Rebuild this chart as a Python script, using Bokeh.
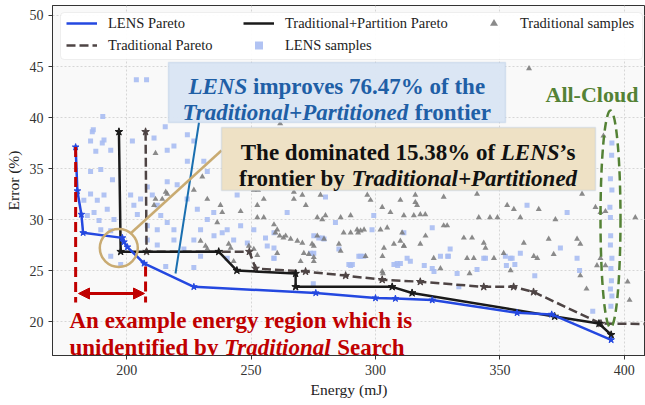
from bokeh.plotting import figure
from bokeh.models import (Range1d, FixedTicker, Legend, LegendItem, Label,
                          BoxAnnotation, Arrow, NormalHead)
from bokeh.embed import file_html
from bokeh.resources import INLINE

# ---------------- data ----------------
lens_pareto_energy = [179.5, 180.2, 181.8, 182.5, 198.3, 198.9, 200.3, 207.0, 227.0,
                      276.0, 300.0, 308.0, 322.8, 356.9, 370.8, 394.7]
lens_pareto_error = [37.1, 32.8, 30.5, 28.7, 28.2, 27.8, 27.3, 25.7, 23.4,
                     22.8, 22.3, 22.25, 22.1, 20.85, 20.7, 18.2]

tp_pareto_energy = [196.9, 197.6, 237.0, 244.3, 267.9, 267.9, 306.7, 314.7, 372.0, 389.8, 394.7]
tp_pareto_error = [38.6, 26.85, 26.85, 25.0, 24.7, 23.4, 23.4, 22.8, 20.5, 19.8, 18.7]

trad_pareto_energy = [207.6, 208.0, 249.3, 251.8, 271.9, 288.0, 302.7, 318.0, 343.5,
                      355.5, 363.5, 390.6, 415.0]
trad_pareto_error = [38.6, 26.85, 26.85, 25.2, 24.9, 24.5, 24.1, 23.9, 23.4,
                     23.4, 22.9, 19.8, 19.75]

lens_sample_energy = [
    185.5, 190.2, 187.6, 193.6, 202.3, 211.0, 216.3, 219.0, 185.5, 189.6, 194.3, 185.5,
    182.8, 188.2, 190.9, 192.2, 186.9, 184.2, 188.9, 194.9, 189.6, 193.6, 201.6, 202.9,
    204.3, 205.6, 208.3, 210.3, 212.3, 213.7, 216.3, 219.0, 212.3, 208.3, 216.3, 220.3,
    224.3, 228.4, 229.7, 232.4, 235.1, 227.0, 235.0, 240.4, 243.0, 245.8, 248.5, 251.1,
    256.5, 259.2, 264.5, 275.2, 279.3, 253.8, 244.4, 232.4, 224.4, 231.0, 193.6, 197.6,
    219.0, 223.0, 229.7, 240.4, 208.3, 212.3, 203.9, 208.0, 190.4, 186.6, 215.5, 186.2,
    190.9, 227.0, 224.4,
    395.0, 394.4, 395.0, 394.4, 394.5, 395.0, 394.4, 394.6, 394.8, 394.4, 395.0, 394.6,
    394.9, 394.2,
    360.9, 377.0, 374.3, 381.0, 354.2, 356.0, 330.0, 329.3, 326.1, 311.4, 322.8, 299.3,
    298.6, 283.9, 279.9, 277.2, 285.3, 294.0, 290.7, 308.7, 314.0, 343.5, 358.2,
    364.0, 382.0, 352.6, 332.8, 319.6, 308.9, 290.0, 275.0, 387.3,
    215.7, 227.0, 238.4, 259.2, 273.9, 295.3, 310.0, 312.7, 255.8, 259.2, 259.2, 275.2,
    278.6, 289.3, 293.3, 307.4, 322.8, 323.5, 333.5, 340.8, 344.2, 352.2, 354.9, 329.0]
lens_sample_error = [
    37.7, 37.5, 36.7, 36.8, 37.7, 38.0, 36.8, 37.2, 34.7, 34.9, 33.9, 32.5,
    31.9, 31.9, 32.4, 31.0, 30.7, 30.4, 29.9, 30.0, 29.0, 28.9, 32.4, 31.4,
    30.5, 32.0, 33.2, 32.4, 31.4, 30.4, 29.7, 29.0, 29.0, 29.4, 33.7, 33.4,
    32.0, 31.0, 29.0, 30.0, 28.4, 28.0, 30.7, 29.0, 28.0, 29.4, 27.7, 29.0,
    27.4, 28.7, 30.7, 28.4, 28.1, 34.7, 32.4, 34.7, 35.7, 35.7, 26.4, 25.6,
    28.0, 27.1, 26.4, 26.2, 28.0, 27.5, 43.7, 43.7, 40.1, 38.8, 39.1, 38.6,
    37.8, 37.7, 38.3,
    37.5, 34.0, 32.9, 30.2, 28.4, 26.2, 27.5, 25.2, 24.0, 23.2, 22.5, 21.5,
    36.3, 31.2,
    31.4, 30.7, 27.2, 26.2, 26.2, 25.6, 27.1, 26.4, 26.4, 28.7, 29.2, 30.4,
    29.0, 29.7, 32.2, 28.2, 27.1, 26.4, 25.6, 25.7, 25.9, 26.2, 26.7,
    24.5, 25.0, 25.5, 24.7, 25.5, 25.5, 25.5, 23.7, 21.0,
    25.4, 25.3, 28.7, 26.2, 26.7, 26.4, 25.7, 26.2, 28.2, 27.2, 26.2, 26.7,
    28.2, 25.6, 26.4, 25.6, 25.2, 24.9, 23.4, 25.1, 26.2, 26.4, 26.2, 26.4]

trad_sample_energy = [
    211.6, 230.4, 227.0, 215.7, 214.3, 211.0, 232.4, 237.7, 238.4, 236.4, 245.8, 251.1,
    252.8, 255.1, 252.5, 252.5, 255.1, 259.2, 260.5, 263.9, 265.9, 268.6, 270.6, 267.2,
    270.6, 272.0, 267.2, 277.9, 278.6, 273.2, 275.2, 269.9, 229.7, 232.4, 241.8, 243.0,
    251.1, 260.5, 252.5,
    296.7, 298.0, 302.7, 310.0, 316.0, 316.0, 316.7, 327.4, 340.8, 352.9, 355.6, 365.6,
    383.0, 388.4, 290.0, 286.0, 279.9, 276.6, 306.0, 311.4, 315.4, 318.0, 320.0, 341.5,
    346.0, 349.0, 358.2, 372.3, 390.4, 392.4, 404.4,
    276.6, 279.3, 287.2, 292.6, 294.0, 295.4, 302.0, 304.7, 310.7, 310.0, 311.4, 320.1,
    327.4, 328.8, 335.5, 338.8, 343.5, 344.2, 351.5, 359.6, 369.6, 381.0, 382.3, 275.2,
    286.0, 296.0, 303.4, 302.8, 323.4, 336.8, 339.5, 347.6, 363.6, 365.0, 371.6, 390.4,
    392.4,
    231.7, 241.0, 249.1, 259.8, 261.5, 263.0, 271.2, 274.5, 285.3, 275.2, 290.0, 293.0,
    302.7, 307.4, 311.4, 318.0, 326.1,
    382.3, 389.0, 401.3, 402.1, 384.8, 354.3, 303.0, 337.8,
    211.6, 216.3, 361.7, 391.6, 261.7]
trad_sample_error = [
    36.5, 34.2, 32.9, 32.7, 32.0, 31.4, 32.0, 31.4, 30.7, 29.7, 30.8, 32.9,
    32.9, 32.0, 31.4, 30.2, 30.2, 29.5, 29.0, 28.4, 28.1, 27.9, 27.7, 32.7,
    32.4, 31.4, 32.0, 32.4, 30.0, 26.6, 26.3, 25.9, 27.9, 27.1, 27.2, 25.9,
    27.1, 26.7, 26.5,
    32.4, 31.9, 31.2, 31.9, 32.4, 31.7, 31.4, 32.2, 32.5, 31.4, 31.0, 31.0,
    32.5, 31.2, 30.4, 30.2, 30.4, 30.2, 30.7, 30.4, 30.4, 30.5, 30.5, 30.2,
    30.2, 30.2, 30.2, 30.0, 30.7, 30.8, 30.2,
    28.4, 28.1, 28.7, 29.0, 28.9, 29.0, 29.0, 29.2, 28.7, 27.9, 27.4, 28.4,
    29.4, 29.4, 28.2, 28.2, 27.7, 27.2, 26.7, 27.7, 28.1, 28.1, 27.6, 27.4,
    26.9, 26.4, 27.2, 26.4, 26.2, 26.2, 26.2, 26.2, 26.4, 26.2, 26.6, 26.2,
    25.5,
    27.4, 27.6, 27.4, 28.7, 28.4, 28.2, 26.7, 27.6, 27.6, 25.9, 28.7, 28.7,
    24.9, 27.6, 27.4, 27.6, 25.2,
    24.5, 25.5, 23.9, 22.1, 23.2, 25.0, 24.7, 24.7,
    32.0, 32.5, 44.8, 38.2, 39.4]

x_ticks = [200, 250, 300, 350, 400]
y_ticks = [20, 25, 30, 35, 40, 45, 50]

# ---------------- layout helpers ----------------
FONT = "Liberation Serif"
FRAME_L, FRAME_R, FRAME_T, FRAME_B = 52, 645, 5, 355   # pixels of the plot frame
X0, X1 = 170.2, 408.5
Y0, Y1 = 16.67, 50.98
XS = (X1 - X0) / (FRAME_R - FRAME_L)
YS = (Y1 - Y0) / (FRAME_B - FRAME_T)


def dx(px):
    return X0 + (px - FRAME_L) * XS


def dy(py):
    return Y0 + (FRAME_B - py) * YS


BOLD = {' ': 250, '%': 1000, '\u2019': 333, '+': 570, '-': 333, '.': 250,
        'A': 722, 'C': 722, 'E': 667, 'L': 667, 'N': 722, 'P': 611, 'S': 556, 'T': 667,
        'a': 500, 'b': 556, 'c': 444, 'd': 556, 'e': 444, 'f': 333, 'g': 500, 'h': 556,
        'i': 278, 'l': 278, 'm': 833, 'n': 556, 'o': 500, 'p': 556, 'r': 444, 's': 389,
        't': 333, 'u': 556, 'v': 500, 'w': 722, 'x': 500, 'y': 500}
for _d in "0123456789":
    BOLD[_d] = 500
BOLDIT = {' ': 250, '+': 570, 'L': 611, 'E': 667, 'N': 722, 'S': 556, 'T': 611, 'P': 611,
          'a': 500, 'd': 500, 'e': 444, 'i': 278, 'l': 278, 'n': 556, 'o': 500, 'r': 389,
          't': 278}


def tw(s, style, size):
    table = BOLDIT if "italic" in style else BOLD
    return sum(table.get(c, 500) for c in s) * size / 1000.0


p = figure(width=645, height=405, x_range=Range1d(X0, X1), y_range=Range1d(Y0, Y1),
           output_backend="svg", toolbar_location=None,
           min_border_left=FRAME_L, min_border_right=0, min_border_top=FRAME_T,
           min_border_bottom=405 - FRAME_B)
p.background_fill_color = "#f9f9f9"
p.border_fill_color = "white"
p.outline_line_color = "#333333"
p.outline_line_width = 1

for ax in (p.xaxis[0], p.yaxis[0]):
    ax.major_label_text_font = FONT
    ax.major_label_text_font_size = "14px"
    ax.major_label_text_color = "#333333"
    ax.axis_label_text_font = FONT
    ax.axis_label_text_font_size = "15.5px"
    ax.axis_label_text_font_style = "normal"
    ax.axis_label_text_color = "#222222"
    ax.axis_line_color = "#333333"
    ax.major_tick_line_color = "#333333"
    ax.major_tick_in = 0
    ax.major_tick_out = 4
    ax.minor_tick_line_color = None
p.xaxis.axis_label = "Energy (mJ)"
p.yaxis.axis_label = "Error (%)"
p.xaxis.axis_label_standoff = 3
p.xaxis.ticker = FixedTicker(ticks=x_ticks)
p.yaxis.ticker = FixedTicker(ticks=y_ticks)
p.grid.grid_line_color = "#d6d6d6"
p.grid.grid_line_dash = "2 2"
p.grid.grid_line_width = 1

# ---------------- data marks ----------------
BLUE = "#2448e0"
BLACK = "#1a1a1a"
DASHC = "#4e4444"

r_lens_s = p.scatter(lens_sample_energy, lens_sample_error, marker="square", size=5,
                     fill_color="#a9bdf2", line_color=None, fill_alpha=0.9)
r_trad_s = p.scatter(trad_sample_energy, trad_sample_error, marker="triangle", size=6,
                     fill_color="#7d7d7d", line_color=None, fill_alpha=0.9)

r_trad = p.line(trad_pareto_energy, trad_pareto_error, line_color=DASHC, line_width=2.5,
                line_dash="9 4")
p.scatter(trad_pareto_energy[:-1], trad_pareto_error[:-1], marker="star", size=8,
          fill_color=DASHC, line_color=DASHC)
r_tp = p.line(tp_pareto_energy, tp_pareto_error, line_color=BLACK, line_width=2.5)
p.scatter(tp_pareto_energy, tp_pareto_error, marker="star", size=8,
          fill_color=BLACK, line_color=BLACK)
r_lens = p.line(lens_pareto_energy, lens_pareto_error, line_color=BLUE, line_width=2.5)
p.scatter(lens_pareto_energy, lens_pareto_error, marker="star", size=7,
          fill_color=BLUE, line_color=BLUE)

# ---------------- annotations ----------------
RED = "#c00000"
TAN = "#c9ab72"
GREEN = "#548235"

# red bracket
p.segment(x0=[lens_pareto_energy[0], trad_pareto_energy[0]],
          y0=[lens_pareto_error[0], dy(266)],
          x1=[lens_pareto_energy[0], trad_pareto_energy[0]],
          y1=[dy(302), dy(302)], line_color=RED, line_width=3, line_dash="10 5")
p.add_layout(Arrow(start=NormalHead(size=11, fill_color=RED, line_color=RED),
                   end=NormalHead(size=11, fill_color=RED, line_color=RED),
                   x_start=dx(78), y_start=dy(293), x_end=dx(144), y_end=dy(293),
                   line_color=RED, line_width=3))

# green ellipse (All-Cloud)
p.ellipse(x=[dx(610)], y=[dy(218.5)], width=20 * XS, height=217 * YS,
          fill_alpha=0, line_color=GREEN, line_width=2.5, line_dash="9 5")

# connectors and circle
p.segment(x0=[dx(198.5)], y0=[dy(122)], x1=[dx(175)], y1=[dy(273)],
          line_color="#1a6fb0", line_width=2)
p.segment(x0=[dx(130)], y0=[dy(233)], x1=[dx(221)], y1=[dy(150)],
          line_color=TAN, line_width=2.5)
p.scatter(x=[dx(118.3)], y=[dy(247.5)], marker="circle", size=38, fill_alpha=0,
          line_color=TAN, line_width=2.5)

# legend frame
p.add_layout(BoxAnnotation(left=dx(60), right=dx(642), top=dy(12), bottom=dy(59),
                           fill_color="white", fill_alpha=0.95, border_radius=4,
                           line_color="#cccccc", line_width=1))


def add_legend(items, xoff, nrows):
    h = 20
    total_h = nrows * h + (nrows - 1) * 2
    leg = Legend(items=items,
                 location=(xoff, FRAME_B - (13 + total_h)),
                 orientation="vertical", padding=0, margin=0, spacing=2,
                 glyph_width=31, glyph_height=h, label_height=h, label_standoff=11,
                 label_text_font=FONT, label_text_font_size="14.5px",
                 label_text_color="#222222", border_line_alpha=0,
                 background_fill_alpha=0)
    p.add_layout(leg, "center")


add_legend([LegendItem(label="LENS Pareto", renderers=[r_lens]),
            LegendItem(label="Traditional Pareto", renderers=[r_trad])], 14, 2)
add_legend([LegendItem(label="Traditional+Partition Pareto", renderers=[r_tp]),
            LegendItem(label="LENS samples", renderers=[r_lens_s])], 191, 2)
add_legend([LegendItem(label="Traditional samples", renderers=[r_trad_s])], 426, 1)

# text boxes
p.add_layout(BoxAnnotation(left=dx(168), right=dx(505), top=dy(62), bottom=dy(122),
                           fill_color="#dae5f4", fill_alpha=0.97,
                           line_color="#9fb8dc", line_width=1.5))
p.add_layout(BoxAnnotation(left=dx(221), right=dx(595), top=dy(127), bottom=dy(190),
                           fill_color="#eee1c5", fill_alpha=1,
                           line_color="#a8bfe0", line_width=1.5))


def place_line(segments, baseline, size, color, center=None, left=None):
    total = sum(tw(s, st, size) for s, st in segments)
    x = left if left is not None else center - total / 2.0
    for s, st in segments:
        core = s.lstrip(" ")
        x += tw(s[:len(s) - len(core)], st, size)
        shown = core.rstrip(" ")
        p.add_layout(Label(x=dx(x), y=dy(baseline), text=shown, text_font=FONT,
                           text_font_size=f"{size}px", text_font_style=st,
                           text_color=color, text_baseline="alphabetic",
                           text_align="left"))
        x += tw(core, st, size)


BOXBLUE = "#1f5fa6"
place_line([("LENS", "bold italic"), (" improves 76.47% of the", "bold")], 86, 23,
           BOXBLUE, center=336.5)
place_line([("Traditional+Partitioned", "bold italic"), (" frontier", "bold")], 112, 23,
           BOXBLUE, center=336.5)
place_line([("The dominated 15.38% of ", "bold"), ("LENS", "bold italic"),
            ("\u2019s", "bold")], 152, 23, "#111111", center=408)
place_line([("frontier by ", "bold"), ("Traditional+Partitioned", "bold italic")], 178, 23,
           "#111111", center=408)
place_line([("An example energy region which is", "bold")], 320, 23, RED, left=69)
place_line([("unidentified by ", "bold"), ("Traditional", "bold italic"),
            (" Search", "bold")], 347, 23, RED, left=69)
place_line([("All-Cloud", "bold")], 94, 22, GREEN, left=545)

open("out.html", "w").write(file_html(p, INLINE))
